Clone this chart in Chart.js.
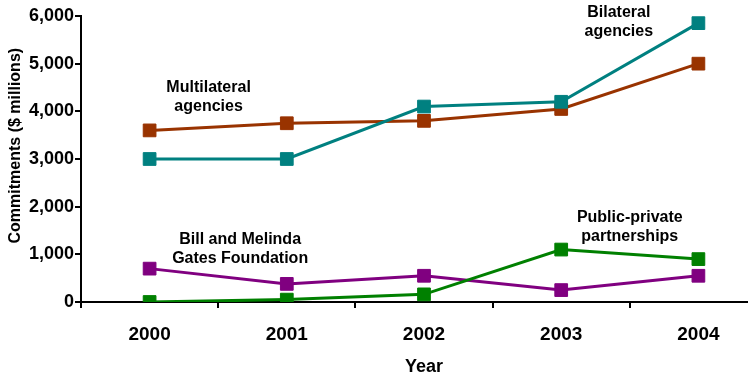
<!DOCTYPE html>
<html>
<head>
<meta charset="utf-8">
<script src="https://cdn.jsdelivr.net/npm/chart.js@4/dist/chart.umd.min.js"></script>
<style>
    html, body { margin: 0; padding: 0; background: #fff; overflow: hidden; }
    #wrap { width: 777px; height: 376px; }
</style>
</head>
<body>
<div id="wrap"><canvas id="chart"></canvas></div>
<script>
// data
const years = ["2000", "2001", "2002", "2003", "2004"];
const multilateral = [3600, 3750, 3800, 4050, 5000];
const bilateral = [3000, 3000, 4100, 4200, 5850];
const gates = [700, 380, 550, 250, 550];
const ppp = [0, 50, 160, 1100, 900];

// series label text, placed in data units (category index, value)
const noteText = [["Multilateral", "agencies"], ["Bilateral", "agencies"], ["Bill and Melinda", "Gates Foundation"], ["Public-private", "partnerships"]];
const noteX = [0.43, 3.42, 0.66, 3.5];
const noteY = [4300, 5870, 1110, 1575];

const font = "'Liberation Sans', Arial, sans-serif";

function series(label, data, color) {
    return {
        label: label,
        data: data,
        borderColor: color,
        backgroundColor: color,
        borderWidth: 3,
        pointStyle: "rect",
        pointRadius: 9,
        pointBorderWidth: 1,
        tension: 0
    };
}

// text labels next to the lines
const notes = {
    id: "notes",
    afterDatasetsDraw(chart) {
        const c = chart.ctx;
        const x = chart.scales.x;
        const y = chart.scales.y;
        c.save();
        c.fillStyle = "#000";
        c.font = "bold 16px " + font;
        c.textAlign = "center";
        c.textBaseline = "middle";
        for (let i = 0; i < noteText.length; i++) {
            const px = x.getPixelForValue(noteX[i]);
            const py = y.getPixelForValue(noteY[i]);
            const lines = noteText[i];
            for (let j = 0; j < lines.length; j++) {
                c.fillText(lines[j], px, py + (j - (lines.length - 1) / 2) * 19);
            }
        }
        c.restore();
    }
};

const ctx = document.getElementById("chart");

new Chart(ctx, {
    type: "line",
    data: {
        labels: years,
        datasets: [
            series("Public-private partnerships", ppp, "#008000"),
            series("Bill and Melinda Gates Foundation", gates, "#800080"),
            series("Bilateral agencies", bilateral, "#008080"),
            series("Multilateral agencies", multilateral, "#993300")
        ]
    },
    options: {
        responsive: true,
        maintainAspectRatio: false,
        animation: false,
        layout: {
            padding: { top: 16, right: 4, left: 0, bottom: 0 }
        },
        plugins: {
            legend: { display: false },
            tooltip: { enabled: false }
        },
        scales: {
            x: {
                offset: true,
                grid: {
                    offset: true,
                    drawOnChartArea: false,
                    color: "#000",
                    lineWidth: 2,
                    tickLength: 6
                },
                border: { color: "#000", width: 2 },
                ticks: {
                    color: "#000",
                    padding: 15,
                    font: { family: font, size: 19, weight: "bold" }
                },
                title: {
                    display: true,
                    text: "Year",
                    color: "#000",
                    padding: { top: 0, bottom: 0 },
                    font: { family: font, size: 18, weight: "bold", lineHeight: 1 }
                },
                afterFit(scale) { scale.height = 74; }
            },
            y: {
                min: 0,
                max: 6000,
                grid: {
                    drawOnChartArea: false,
                    color: "#000",
                    lineWidth: 2,
                    tickLength: 6
                },
                border: { color: "#000", width: 2 },
                ticks: {
                    stepSize: 500,
                    color: "#000",
                    padding: 1,
                    font: { family: font, size: 18, weight: "bold" },
                    callback: function (v) {
                        return v % 1000 === 0 ? v.toLocaleString("en-US") : "";
                    }
                },
                title: {
                    display: true,
                    text: "\u00a0\u00a0\u00a0\u00a0\u00a0\u00a0Commitments ($ millions)",
                    color: "#000",
                    padding: { top: 6, bottom: 0 },
                    font: { family: font, size: 16, weight: "bold" }
                },
                afterFit(scale) { scale.width = 81; }
            }
        }
    },
    plugins: [notes]
});
</script>
</body>
</html>
